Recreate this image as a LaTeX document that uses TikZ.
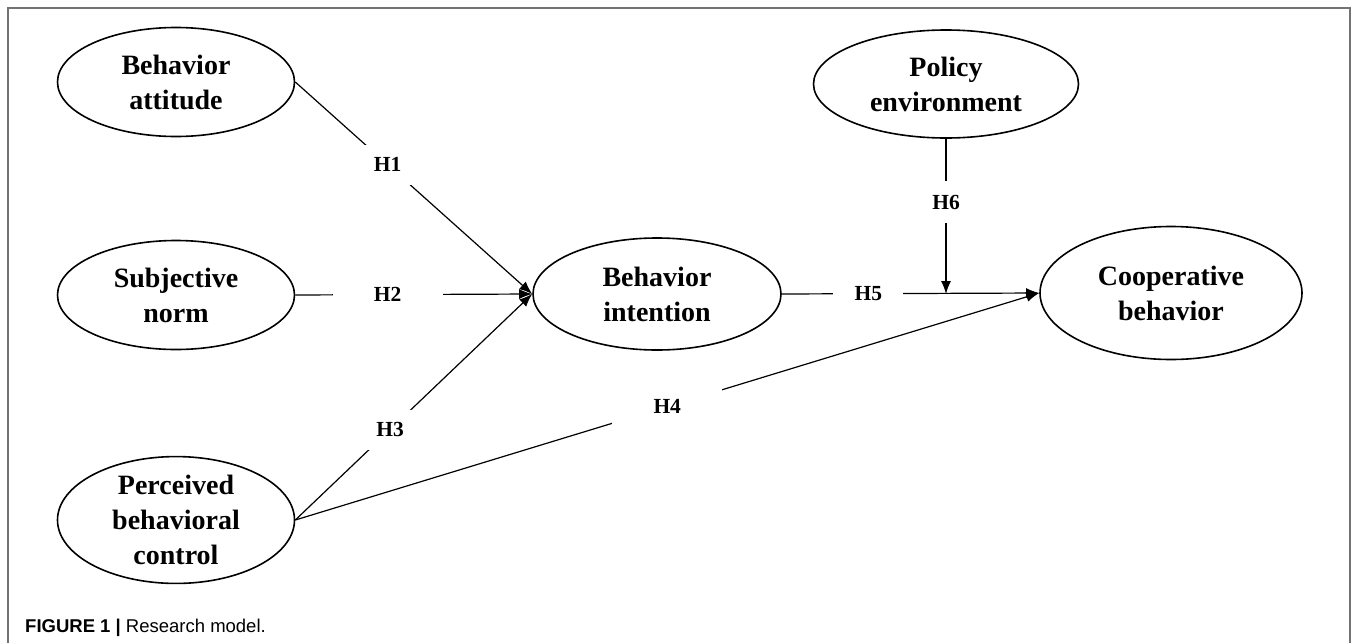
\documentclass[tikz,border=0pt]{standalone}
\usepackage{fontspec}
\setmainfont{Liberation Serif}
\newfontfamily\capfont{Liberation Sans}
\usetikzlibrary{arrows.meta,calc,shapes.geometric}
\tikzset{
  construct/.style={draw, line width=1.6pt, ellipse, inner sep=0pt, align=center,
    font=\fontsize{28}{35}\selectfont\bfseries},
  link/.style={line width=1.2pt, -{Latex[length=13pt,width=10pt]}},
  hlabel/.style={fill=white, inner sep=0pt, minimum height=40pt, text=black,
    font=\fontsize{21.5}{24}\selectfont\bfseries},
  frameline/.style={draw=black!55, line width=1.4pt}
}
\begin{document}
\begin{tikzpicture}[x=1pt,y=-1pt]
\useasboundingbox (0,0) rectangle (1357,643);
\fill[white] (0,0) rectangle (1357,643);
\draw[frameline] (8,643) -- (8,8) -- (1350,8) -- (1350,643);

\node[construct, minimum width=237pt, minimum height=109pt] (BA) at (176,82) {Behavior\\attitude};
\node[construct, minimum width=237pt, minimum height=109pt] (SN) at (176,295) {Subjective\\norm};
\node[construct, minimum width=237pt, minimum height=106pt] (PBC) at (176,520) {Perceived\\behavioral\\control};
\node[construct, minimum width=248pt, minimum height=112pt] (BI) at (657,294) {Behavior\\intention};
\node[construct, minimum width=265pt, minimum height=108pt] (PE) at (946,84) {Policy\\environment};
\node[construct, minimum width=262pt, minimum height=133pt] (CB) at (1171,293) {Cooperative\\behavior};

\coordinate (J) at (PE.south |- BI.east);

\draw[link] (BA.east) -- node[hlabel, pos=0.39, minimum width=60pt] (L1) {H1} (BI.west);
\draw[link] (SN.east) -- node[hlabel, pos=0.39, minimum width=110pt] (L2) {H2} (BI.west);
\draw[link] (PBC.east) -- node[hlabel, pos=0.40, minimum width=60pt] (L3) {H3} (BI.west);
\draw[link] (PBC.east) -- node[hlabel, pos=0.50, minimum width=110pt] (L4) {H4} (CB.west);
\draw[link] (BI.east) -- node[hlabel, pos=0.336, minimum width=70pt] (L5) {H5} (CB.west);
\draw[link] (PE.south) -- node[hlabel, pos=0.41, minimum width=30pt, minimum height=42pt] (L6) {H6} (J);

\node[anchor=base west, inner sep=0pt, font=\capfont\fontsize{18.5}{22}\selectfont] (cap) at (25,632)
  {\textbf{FIGURE 1 |} Research model.};
\end{tikzpicture}
\end{document}
